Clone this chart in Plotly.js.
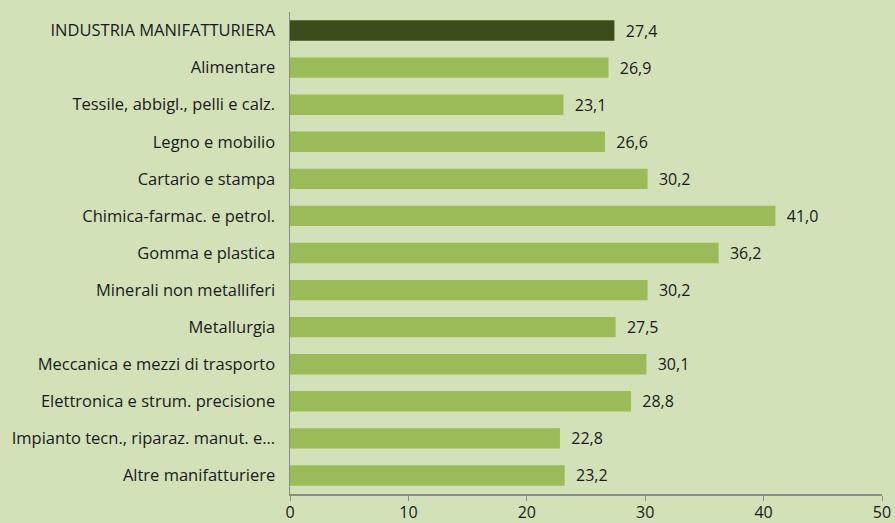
<!DOCTYPE html>
<html>
<head>
<meta charset="utf-8">
<script src="https://cdn.plot.ly/plotly-3.0.1.min.js"></script>
<style>html,body{margin:0;padding:0;background:#d3e1b9;}</style>
</head>
<body>
<div id="chart" style="width:895px;height:523px;"></div>
<script>
const categories = [
  "INDUSTRIA MANIFATTURIERA",
  "Alimentare",
  "Tessile, abbigl., pelli e calz.",
  "Legno e mobilio",
  "Cartario e stampa",
  "Chimica-farmac. e petrol.",
  "Gomma e plastica",
  "Minerali non metalliferi",
  "Metallurgia",
  "Meccanica e mezzi di trasporto",
  "Elettronica e strum. precisione",
  "Impianto tecn., riparaz. manut. e...",
  "Altre manifatturiere"
];
const values = [27.4, 26.9, 23.1, 26.6, 30.2, 41.0, 36.2, 30.2, 27.5, 30.1, 28.8, 22.8, 23.2];
const xTicks = [0, 10, 20, 30, 40, 50];

const colors = values.map((v, i) => i === 0 ? '#3a4d1b' : '#9bbb59');

const trace = {
  type: 'bar',
  orientation: 'h',
  y: categories,
  x: values,
  marker: {color: colors, line: {width: 0}},
  texttemplate: '  %{x:.1f}',
  textposition: 'outside',
  constraintext: 'none',
  textfont: {family: 'Open Sans, sans-serif', size: 16, color: '#1a1a1a'},
  cliponaxis: false,
  hoverinfo: 'none'
};

const layout = {
  width: 895, height: 523,
  margin: {l: 290, r: 13, t: 12, b: 29},
  paper_bgcolor: '#d3e1b9',
  plot_bgcolor: '#d3e1b9',
  separators: ',.',
  bargap: 0.45,
  showlegend: false,
  font: {family: 'Open Sans, sans-serif', color: '#1a1a1a'},
  xaxis: {
    range: [0, 50],
    tickvals: xTicks,
    showgrid: false,
    zeroline: false,
    showline: true,
    linecolor: '#8c8c8c',
    linewidth: 1.5,
    ticks: 'outside',
    ticklen: 5,
    tickcolor: '#8c8c8c',
    ticklabelstandoff: -2,
    tickfont: {size: 16, color: '#1a1a1a'},
    fixedrange: true
  },
  yaxis: {
    autorange: 'reversed',
    showgrid: false,
    zeroline: false,
    showline: true,
    linecolor: '#8c8c8c',
    linewidth: 1.5,
    ticks: '',
    ticklabelstandoff: 10,
    tickfont: {size: 16.5, color: '#1a1a1a'},
    fixedrange: true
  }
};

Plotly.newPlot('chart', [trace], layout, {displayModeBar: false, staticPlot: true});
</script>
</body>
</html>
